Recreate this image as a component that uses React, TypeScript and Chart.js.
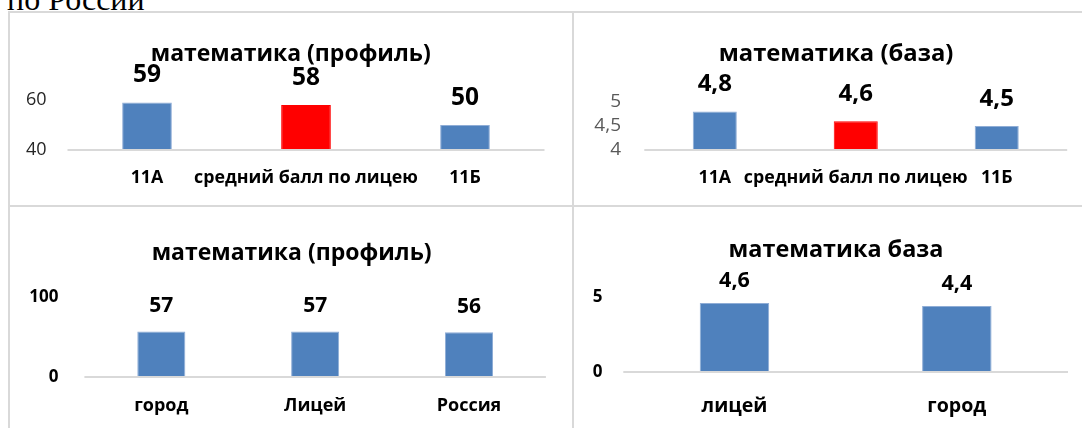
import React, { useEffect, useRef } from 'react';
import { Chart, registerables } from 'chart.js';

Chart.register(...registerables);

// ---- data ----
const headingText = 'по России';

const topLeftTitle = 'математика (профиль)';
const topLeftCategories = ['11А', 'средний балл по лицею', '11Б'];
const topLeftValues = [59, 58, 50];
const topLeftTicks = [40, 60];

const topRightTitle = 'математика (база)';
const topRightCategories = ['11А', 'средний балл по лицею', '11Б'];
const topRightValues = [4.8, 4.6, 4.5];
const topRightTicks = [4, 4.5, 5];

const bottomLeftTitle = 'математика (профиль)';
const bottomLeftCategories = ['город', 'Лицей', 'Россия'];
const bottomLeftValues = [57, 57, 56];
const bottomLeftTicks = [0, 100];

const bottomRightTitle = 'математика база';
const bottomRightCategories = ['лицей', 'город'];
const bottomRightValues = [4.6, 4.4];
const bottomRightTicks = [0, 5];

// ---- styles ----
const FONT = '"Open Sans", "Noto Sans", sans-serif';
const BLUE = '#4F81BD';
const BLUE_EDGE = '#8FADD6';
const RED = '#FF0000';
const LINE = '#D9D9D9';

const fmt = (v: number) => String(v).replace('.', ',');

const extrasPlugin = {
  id: 'panelExtras',
  afterDatasetsDraw(chart: any, _args: any, opts: any) {
    const ctx = chart.ctx;
    const yScale = chart.scales.y;
    const area = chart.chartArea;
    const yb = yScale.getPixelForValue(yScale.min);
    ctx.save();
    ctx.strokeStyle = LINE;
    ctx.lineWidth = 2;
    ctx.beginPath();
    ctx.moveTo(area.left, yb);
    ctx.lineTo(area.right, yb);
    ctx.stroke();

    // chart title
    ctx.font = `bold ${opts.titleSize}px ${FONT}`;
    ctx.fillStyle = '#000';
    ctx.textAlign = 'center';
    ctx.textBaseline = 'middle';
    ctx.fillText(opts.title, opts.titleX, opts.titleY);

    // value labels above bars
    const meta = chart.getDatasetMeta(0);
    const ds = chart.data.datasets[0];
    ctx.font = `bold ${opts.labelSize}px ${FONT}`;
    meta.data.forEach((bar: any, i: number) => {
      ctx.fillText(fmt(ds.data[i] as number), bar.x, bar.y - opts.labelOffset);
    });
    ctx.restore();
  },
};

type Panel = {
  title: string;
  categories: string[];
  values: number[];
  ticks: number[];
  colors: string[];
  edges: string[];
  left: number;
  top: number;
  width: number;
  height: number;
  padTop: number;
  yWidth: number;
  yTickPad: number;
  yTickBold: boolean;
  yTickColor: string;
  yTickSize: number;
  padRight: number;
  titleSize: number;
  titleX: number;
  titleY: number;
  xHeight: number;
  xTickPad: number;
  catSize: number;
  labelSize: number;
  labelOffset: number;
};

function ChartPanel({ p }: { p: Panel }) {
  const ref = useRef<HTMLCanvasElement | null>(null);
  useEffect(() => {
    if (!ref.current) return;
    const tickVals = p.ticks;
    const chart = new Chart(ref.current, {
      type: 'bar',
      data: {
        labels: p.categories,
        datasets: [
          {
            data: p.values,
            backgroundColor: p.colors,
            borderColor: p.edges,
            borderWidth: 1,
            barPercentage: 0.3125,
            categoryPercentage: 1,
          },
        ],
      },
      options: {
        responsive: false,
        animation: false,
        events: [],
        layout: { padding: { left: 0, right: p.padRight, top: p.padTop, bottom: 0 } },
        plugins: {
          legend: { display: false },
          tooltip: { enabled: false },
          title: { display: false },
          panelExtras: {
            title: p.title,
            titleSize: p.titleSize,
            titleX: p.titleX,
            titleY: p.titleY,
            labelSize: p.labelSize,
            labelOffset: p.labelOffset,
          },
        } as any,
        scales: {
          x: {
            grid: { display: false },
            border: { display: false },
            ticks: {
              color: '#000',
              font: { family: FONT, size: p.catSize, weight: 'bold' },
              padding: p.xTickPad,
              maxRotation: 0,
              autoSkip: false,
            },
            afterFit: (s: any) => {
              s.height = p.xHeight;
            },
          },
          y: {
            min: tickVals[0],
            max: tickVals[tickVals.length - 1],
            grid: { display: false },
            border: { display: false },
            afterBuildTicks: (s: any) => {
              s.ticks = tickVals.map((v) => ({ value: v }));
            },
            ticks: {
              color: p.yTickColor,
              font: { family: FONT, size: p.yTickSize, weight: p.yTickBold ? 'bold' : 'normal', lineHeight: 1 },
              padding: p.yTickPad,
              autoSkip: false,
              callback: (v: any) => fmt(Number(v)),
            },
            afterFit: (s: any) => {
              s.width = p.yWidth;
            },
          },
        },
      } as any,
      plugins: [extrasPlugin],
    });
    return () => chart.destroy();
  }, [p]);
  return (
    <canvas
      ref={ref}
      width={p.width}
      height={p.height}
      style={{ position: 'absolute', left: p.left, top: p.top, width: p.width, height: p.height }}
    />
  );
}

const panels: Panel[] = [
  {
    title: topLeftTitle,
    categories: topLeftCategories,
    values: topLeftValues,
    ticks: topLeftTicks,
    colors: [BLUE, RED, BLUE],
    edges: [BLUE_EDGE, RED, BLUE_EDGE],
    left: 10,
    top: 14,
    width: 560,
    height: 191,
    padTop: 86,
    yWidth: 57.5,
    yTickPad: 13,
    yTickBold: false,
    yTickColor: '#262626',
    yTickSize: 18,
    padRight: 25.5,
    titleSize: 23,
    titleX: 280.7,
    titleY: 40,
    xHeight: 55,
    xTickPad: 9,
    catSize: 17.8,
    labelSize: 24.5,
    labelOffset: 27,
  },
  {
    title: topRightTitle,
    categories: topRightCategories,
    values: topRightValues,
    ticks: topRightTicks,
    colors: [BLUE, RED, BLUE],
    edges: [BLUE_EDGE, RED, BLUE_EDGE],
    left: 575,
    top: 14,
    width: 505,
    height: 191,
    padTop: 88,
    yWidth: 69.3,
    yTickPad: 15.3,
    yTickBold: false,
    yTickColor: '#595959',
    yTickSize: 19,
    padRight: 12.8,
    titleSize: 23.8,
    titleX: 261,
    titleY: 40,
    xHeight: 55,
    xTickPad: 9,
    catSize: 17.8,
    labelSize: 24,
    labelOffset: 27,
  },
  {
    title: bottomLeftTitle,
    categories: bottomLeftCategories,
    values: bottomLeftValues,
    ticks: bottomLeftTicks,
    colors: [BLUE, BLUE, BLUE],
    edges: [BLUE_EDGE, BLUE_EDGE, BLUE_EDGE],
    left: 10,
    top: 209,
    width: 560,
    height: 219,
    padTop: 88,
    yWidth: 74.4,
    yTickPad: 17.9,
    yTickBold: true,
    yTickColor: '#000',
    yTickSize: 17,
    padRight: 24.1,
    titleSize: 23,
    titleX: 281.6,
    titleY: 44,
    xHeight: 51,
    xTickPad: 10,
    catSize: 18,
    labelSize: 21,
    labelOffset: 25,
  },
  {
    title: bottomRightTitle,
    categories: bottomRightCategories,
    values: bottomRightValues,
    ticks: bottomRightTicks,
    colors: [BLUE, BLUE],
    edges: [BLUE_EDGE, BLUE_EDGE],
    left: 575,
    top: 209,
    width: 505,
    height: 219,
    padTop: 88,
    yWidth: 48.3,
    yTickPad: 12.9,
    yTickBold: true,
    yTickColor: '#000',
    yTickSize: 17,
    padRight: 12,
    titleSize: 23.4,
    titleX: 261,
    titleY: 41,
    xHeight: 56,
    xTickPad: 14.6,
    catSize: 19.6,
    labelSize: 21.5,
    labelOffset: 22.5,
  },
];

export default function App() {
  const line = (s: React.CSSProperties) => (
    <div style={{ position: 'absolute', background: LINE, ...s }} />
  );
  return (
    <div
      style={{
        position: 'absolute',
        left: 0,
        top: 0,
        width: 1082,
        height: 428,
        overflow: 'hidden',
        background: '#fff',
      }}
    >
      <div
        style={{
          position: 'absolute',
          left: 7,
          top: -17,
          fontFamily: '"Liberation Serif", "Times New Roman", serif',
          fontSize: 32,
          lineHeight: '32px',
          color: '#000',
          whiteSpace: 'nowrap',
        }}
      >
        {headingText}
      </div>
      {line({ left: 8, top: 11, width: 1074, height: 2 })}
      {line({ left: 8, top: 11, width: 2, height: 417 })}
      {line({ left: 572, top: 11, width: 2, height: 417 })}
      {line({ left: 8, top: 205, width: 1074, height: 2 })}
      {panels.map((p, i) => (
        <ChartPanel key={i} p={p} />
      ))}
    </div>
  );
}
